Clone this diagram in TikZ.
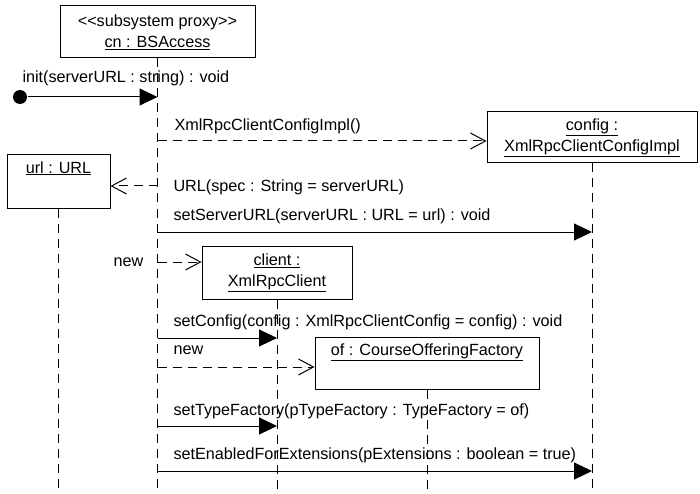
\documentclass[tikz,border=0pt]{standalone}
\usepackage{fontspec}
\setmainfont{Liberation Sans}
\usetikzlibrary{arrows.meta}
\begin{document}
\begin{tikzpicture}[x=1pt,y=-1pt,line width=1pt,
        font=\fontsize{16.2}{21}\selectfont,
        obj/.style={draw,rectangle,inner sep=0pt,align=center},
        life/.style={dash pattern=on 9pt off 6pt},
        call/.style={-{Triangle[length=18pt,width=17pt]}},
        create/.style={dash pattern=on 9pt off 6pt,-{Straight Barb[length=15pt,width=16pt]}},
        msg/.style={anchor=west,inner sep=0pt}]
            \useasboundingbox (0,0) rectangle (700,494);
            \node[obj,minimum width=195,minimum height=52] (cn) at (157.5,32) {{<}{<}subsystem proxy{>}{>}\\\underline{cn : BSAccess}};
            \node[obj,minimum width=210,minimum height=51] (config) at (592,137.5) {\underline{config :}\\\underline{XmlRpcClientConfigImpl}};
            \node[obj,minimum width=103,minimum height=53] (url) at (58.5,181.5) {};
            \node[below=3pt] (urltext) at (url.north) {\underline{url : URL}};
            \node[obj,minimum width=150,minimum height=53] (client) at (277,272.5) {\underline{client :}\\\underline{XmlRpcClient}};
            \node[obj,minimum width=224,minimum height=52] (of) at (427,363) {};
            \node[below=3pt] (oftext) at (of.north) {\underline{of : CourseOfferingFactory}};
            \node[circle,fill,inner sep=0pt,minimum size=14pt] (start) at (20,97) {};
            % lifelines
            \draw[life] (cn.south) -- (cn.south |- 0,494);
            \draw[life] (config.south) -- (config.south |- 0,494);
            \draw[life] (url.south) -- (url.south |- 0,494);
            \draw[life] (client.south) -- (client.south |- 0,494);
            \draw[life] (of.south) -- (of.south |- 0,494);
            % messages
            \draw[call] (start) -- (cn.south |- start);
            \node[msg] (m1) at (22,78) {init(serverURL : string) : void};
            \draw[create] (cn.south |- 0,141) -- (config.west |- 0,141);
            \node[msg] (m2) at (174,126) {XmlRpcClientConfigImpl()};
            \draw[create] (cn.south |- 0,186) -- (url.east |- 0,186);
            \node[msg] (m3) at (173,187) {URL(spec : String = serverURL)};
            \draw[call] (cn.south |- 0,232) -- (config.south |- 0,232);
            \node[msg] (m4) at (173,216) {setServerURL(serverURL : URL = url) : void};
            \draw[create] (cn.south |- 0,262) -- (client.west |- 0,262);
            \node[msg] (m5) at (113,262) {new};
            \draw[call] (cn.south |- 0,338) -- (client.south |- 0,338);
            \node[msg] (m6) at (173,322) {setConfig(config : XmlRpcClientConfig = config) : void};
            \draw[create] (cn.south |- 0,367) -- (of.west |- 0,367);
            \node[msg] (m7) at (173,350) {new};
            \draw[call] (cn.south |- 0,426) -- (client.south |- 0,426);
            \node[msg] (m8) at (173,411) {setTypeFactory(pTypeFactory : TypeFactory = of)};
            \draw[call] (cn.south |- 0,471) -- (config.south |- 0,471);
            \node[msg] (m9) at (173,455) {setEnabledForExtensions(pExtensions : boolean = true)};
        \end{tikzpicture}
\end{document}
